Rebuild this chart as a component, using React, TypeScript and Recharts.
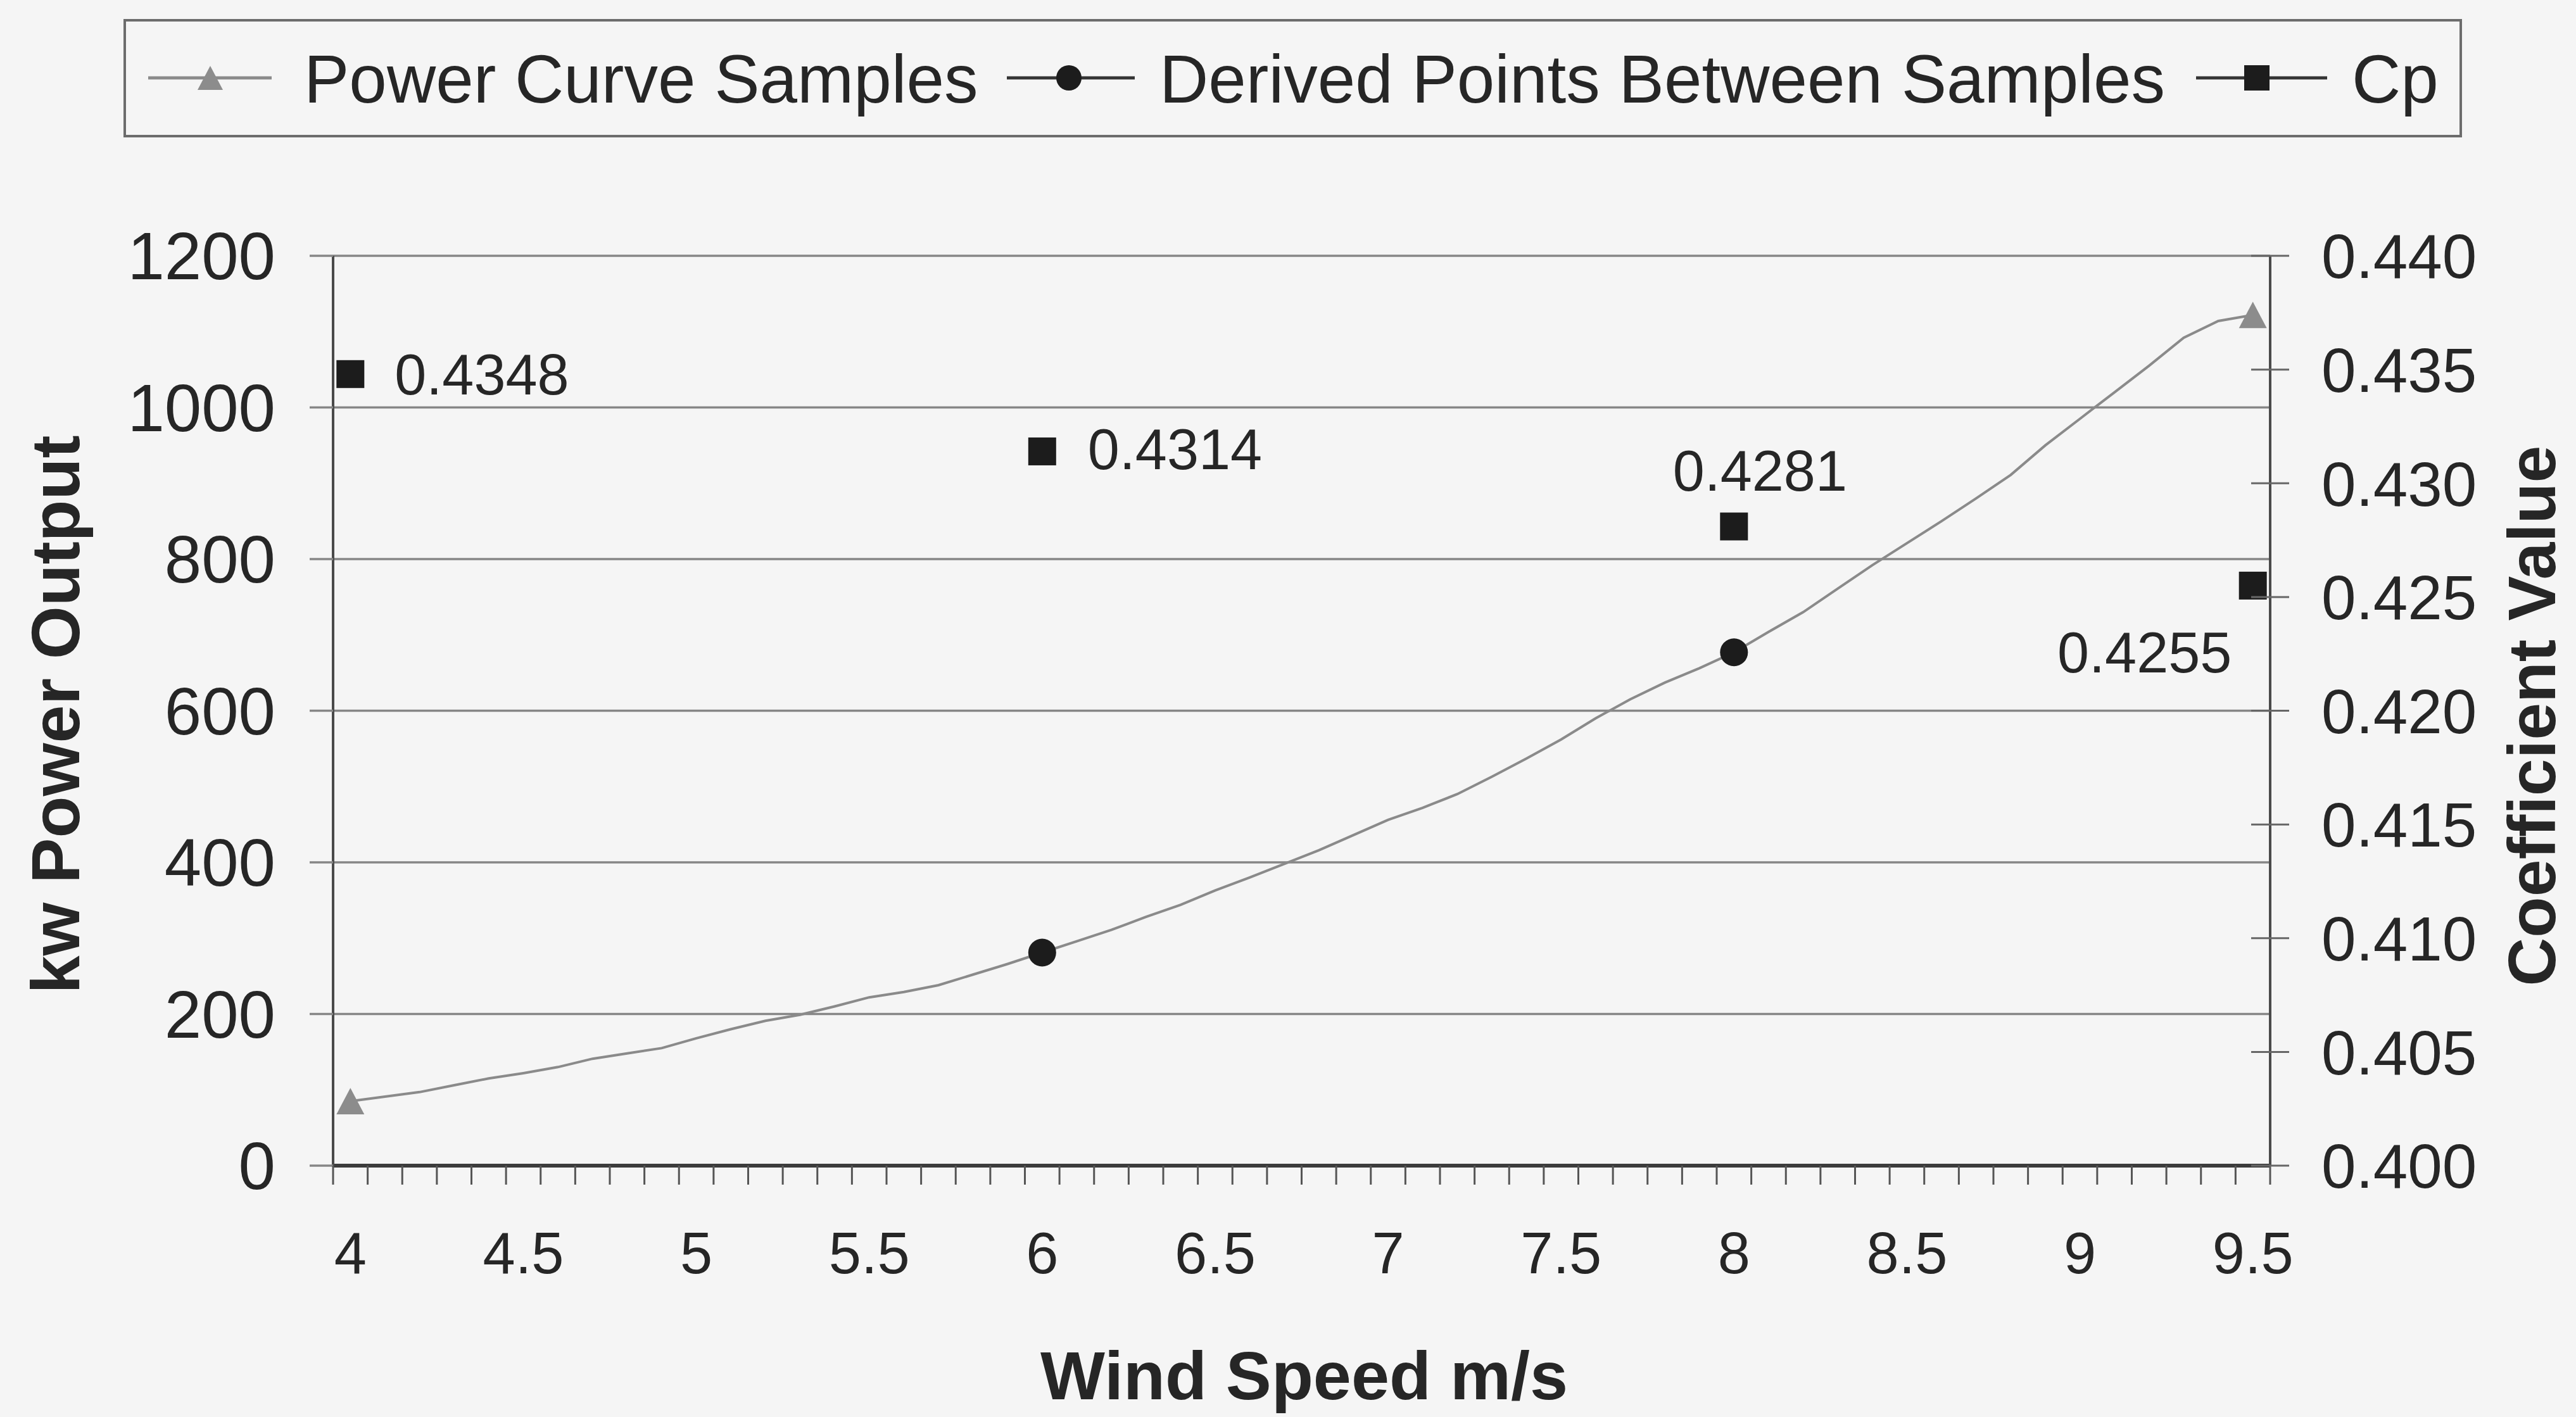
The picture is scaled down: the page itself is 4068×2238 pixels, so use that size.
import { CartesianGrid, Legend, Line, LineChart, XAxis, YAxis } from 'recharts';

// wind speed categories (m/s) and power curve
const windSpeeds = [
  4.0, 4.1, 4.2, 4.3, 4.4, 4.5, 4.6, 4.7, 4.8, 4.9,
  5.0, 5.1, 5.2, 5.3, 5.4, 5.5, 5.6, 5.7, 5.8, 5.9,
  6.0, 6.1, 6.2, 6.3, 6.4, 6.5, 6.6, 6.7, 6.8, 6.9,
  7.0, 7.1, 7.2, 7.3, 7.4, 7.5, 7.6, 7.7, 7.8, 7.9,
  8.0, 8.1, 8.2, 8.3, 8.4, 8.5, 8.6, 8.7, 8.8, 8.9,
  9.0, 9.1, 9.2, 9.3, 9.4, 9.5,
];
const powerKw = [
  85, 91, 97, 106, 115, 122, 130, 141, 148, 155,
  168, 180, 191, 199, 210, 222, 229, 238, 252, 266,
  281, 296, 311, 328, 344, 363, 380, 398, 416, 436,
  456, 472, 490, 513, 537, 562, 590, 615, 637, 656,
  677, 704, 730, 761, 792, 821, 850, 880, 911, 950,
  985, 1020, 1055, 1092, 1114, 1122,
];
const derivedSpeeds = [6, 8];
const derivedKw = [281, 677];
const cpSpeeds = [4, 6, 8, 9.5];
const cpValues = [0.4348, 0.4314, 0.4281, 0.4255];

const xTickLabels = ['4', '4.5', '5', '5.5', '6', '6.5', '7', '7.5', '8', '8.5', '9', '9.5'];
const kwTicks = [0, 200, 400, 600, 800, 1000, 1200];
const cpTicks = [0.4, 0.405, 0.41, 0.415, 0.42, 0.425, 0.43, 0.435, 0.44];
const seriesNames = ['Power Curve Samples', 'Derived Points Between Samples', 'Cp'];

const TEXT = '#262626';
const GRID = '#868686';
const CURVE = '#8a8a8a';
const MARK = '#1c1c1c';
const FONT = '"Liberation Sans", Arial, sans-serif';

const k10 = (s: number) => Math.round(s * 10);

const data = windSpeeds.map((speed, i) => {
  const d = derivedSpeeds.findIndex((s) => k10(s) === k10(speed));
  const c = cpSpeeds.findIndex((s) => k10(s) === k10(speed));
  return {
    speed,
    power: powerKw[i],
    derived: d >= 0 ? derivedKw[d] : null,
    cp: c >= 0 ? cpValues[c] : null,
  };
});

// category boundaries get the small tick marks, labels sit on every 5th category
const labelValues = xTickLabels.map(Number);
const boundaryTicks = [
  ...windSpeeds.map((s) => s - 0.05),
  windSpeeds[windSpeeds.length - 1] + 0.05,
];
const xTicks = [...boundaryTicks, ...labelValues].sort((a, b) => a - b);

// where each Cp label sits relative to its marker (Excel put them by hand)
const cpLabelPlacement: Record<number, { dx: number; dy: number; anchor: string }> = {
  40: { dx: 70, dy: 0, anchor: 'start' },
  60: { dx: 72, dy: -4, anchor: 'start' },
  80: { dx: 41, dy: -89, anchor: 'middle' },
  95: { dx: -171, dy: 105, anchor: 'middle' },
};

function SpeedTick(props: any) {
  const { x, y, payload } = props;
  const li = labelValues.findIndex((v) => Math.abs(v - payload.value) < 1e-6);
  if (li >= 0) {
    return (
      <text x={x} y={y + 170} textAnchor="middle" fontSize={92} fill={TEXT}>
        {xTickLabels[li]}
      </text>
    );
  }
  return <line x1={x} x2={x} y1={y} y2={y + 30} stroke="#555" strokeWidth={3} />;
}

function CpTick(props: any) {
  const { x, y, payload } = props;
  return (
    <g>
      <line x1={x - 111} x2={x - 51} y1={y} y2={y} stroke="#666" strokeWidth={3} />
      <text x={x} y={y} dy="0.36em" textAnchor="start" fontSize={98} fill={TEXT}>
        {Number(payload.value).toFixed(3)}
      </text>
    </g>
  );
}

function Triangle({ cx, cy, s = 44 }: { cx: number; cy: number; s?: number }) {
  const h = s * 0.95;
  return (
    <polygon
      points={`${cx},${cy - h / 2} ${cx + s / 2},${cy + h / 2} ${cx - s / 2},${cy + h / 2}`}
      fill="#8c8c8c"
    />
  );
}

const sampleDot = (p: any) => {
  const last = windSpeeds.length - 1;
  if (p.index !== 0 && p.index !== last) return <g key={`s${p.index}`} />;
  return <Triangle key={`s${p.index}`} cx={p.cx} cy={p.cy} />;
};

const derivedDot = (p: any) => {
  if (p.value == null || p.cy == null) return <g key={`d${p.index}`} />;
  return <circle key={`d${p.index}`} cx={p.cx} cy={p.cy} r={22} fill={MARK} />;
};

const cpDot = (p: any) => {
  if (p.value == null || p.cy == null) return <g key={`c${p.index}`} />;
  const place = cpLabelPlacement[k10(windSpeeds[p.index])];
  const v = Array.isArray(p.value) ? p.value[1] : p.value;
  return (
    <g key={`c${p.index}`}>
      <rect x={p.cx - 22} y={p.cy - 22} width={44} height={44} fill={MARK} />
      {place && (
        <text
          x={p.cx + place.dx}
          y={p.cy + place.dy}
          dy="0.36em"
          textAnchor={place.anchor as any}
          fontSize={90}
          fill={TEXT}
        >
          {Number(v).toFixed(4)}
        </text>
      )}
    </g>
  );
};

function LegendBox() {
  const cy = 93;
  return (
    <svg width={3693} height={187} style={{ display: 'block', overflow: 'visible' }}>
      <rect x={2} y={2} width={3689} height={183} fill="none" stroke="#6c6c6c" strokeWidth={4} />
      <line x1={39} x2={234} y1={cy} y2={cy} stroke={CURVE} strokeWidth={5} />
      <Triangle cx={137} cy={cy} s={40} />
      <text x={285} y={cy} dy="0.36em" fontSize={107} fill={TEXT}>{seriesNames[0]}</text>
      <line x1={1395} x2={1597} y1={cy} y2={cy} stroke="#333" strokeWidth={5} />
      <circle cx={1493} cy={cy} r={20} fill={MARK} />
      <text x={1636} y={cy} dy="0.36em" fontSize={107} fill={TEXT}>{seriesNames[1]}</text>
      <line x1={3273} x2={3480} y1={cy} y2={cy} stroke="#333" strokeWidth={5} />
      <rect x={3349} y={cy - 20} width={40} height={40} fill={MARK} />
      <text x={3519} y={cy} dy="0.36em" fontSize={107} fill={TEXT}>{seriesNames[2]}</text>
    </svg>
  );
}

const leftTitle = (p: any) => {
  const vb = p.viewBox;
  const x = vb.x + 125;
  const y = vb.y + vb.height / 2 + 6;
  return (
    <text x={x} y={y} transform={`rotate(-90, ${x}, ${y})`} textAnchor="middle" fontSize={108} fontWeight="bold" fill={TEXT}>
      kw Power Output
    </text>
  );
};

const rightTitle = (p: any) => {
  const vb = p.viewBox;
  const x = vb.x + 450;
  const y = vb.y + vb.height / 2 + 8;
  return (
    <text x={x} y={y} transform={`rotate(-90, ${x}, ${y})`} textAnchor="middle" fontSize={106} fontWeight="bold" fill={TEXT}>
      Coefficient Value
    </text>
  );
};

const bottomTitle = (p: any) => {
  const vb = p.viewBox;
  return (
    <text x={vb.x + vb.width / 2 + 4} y={vb.y + 369} textAnchor="middle" fontSize={108} fontWeight="bold" fill={TEXT}>
      Wind Speed m/s
    </text>
  );
};

export default function App() {
  return (
    <div
      style={{
        position: 'absolute',
        left: 0,
        top: 0,
        width: 4068,
        height: 2238,
        background: '#f5f5f5',
        fontFamily: FONT,
      }}
    >
      <LineChart width={4068} height={2238} data={data} margin={{ top: 404, right: 0, bottom: 0, left: 0 }}>
        <CartesianGrid yAxisId="left" vertical={false} stroke={GRID} strokeWidth={3.5} />
        <XAxis
          dataKey="speed"
          type="number"
          domain={[3.95, 9.55]}
          ticks={xTicks}
          interval={0}
          allowDataOverflow
          height={397}
          tickSize={0}
          tickMargin={0}
          tickLine={false}
          tick={SpeedTick}
          axisLine={{ stroke: '#3c3c3c', strokeWidth: 6 }}
          label={bottomTitle}
        />
        <YAxis
          yAxisId="left"
          domain={[0, 1200]}
          ticks={kwTicks}
          interval={0}
          width={526}
          tickSize={37}
          tickMargin={54}
          tickLine={{ stroke: GRID, strokeWidth: 3.5 }}
          axisLine={{ stroke: '#4a4a4a', strokeWidth: 4 }}
          tick={{ fontSize: 105, fill: TEXT }}
          label={leftTitle}
        />
        <YAxis
          yAxisId="right"
          orientation="right"
          domain={[0.4, 0.44]}
          ticks={cpTicks}
          interval={0}
          allowDataOverflow
          width={483}
          tickSize={30}
          tickMargin={51}
          tickLine={false}
          tick={CpTick}
          axisLine={{ stroke: '#4a4a4a', strokeWidth: 4 }}
          label={rightTitle}
        />
        <Legend
          content={LegendBox}
          layout="vertical"
          align="center"
          verticalAlign="middle"
          wrapperStyle={{ position: 'absolute', top: 30, left: 195, width: 3693, height: 187 }}
        />
        <Line
          yAxisId="left"
          dataKey="power"
          name={seriesNames[0]}
          stroke={CURVE}
          strokeWidth={4}
          dot={sampleDot}
          activeDot={false}
          isAnimationActive={false}
        />
        <Line
          yAxisId="left"
          dataKey="derived"
          name={seriesNames[1]}
          stroke="none"
          dot={derivedDot}
          activeDot={false}
          isAnimationActive={false}
        />
        <Line
          yAxisId="right"
          dataKey="cp"
          name={seriesNames[2]}
          stroke="none"
          dot={cpDot}
          activeDot={false}
          isAnimationActive={false}
        />
      </LineChart>
    </div>
  );
}
